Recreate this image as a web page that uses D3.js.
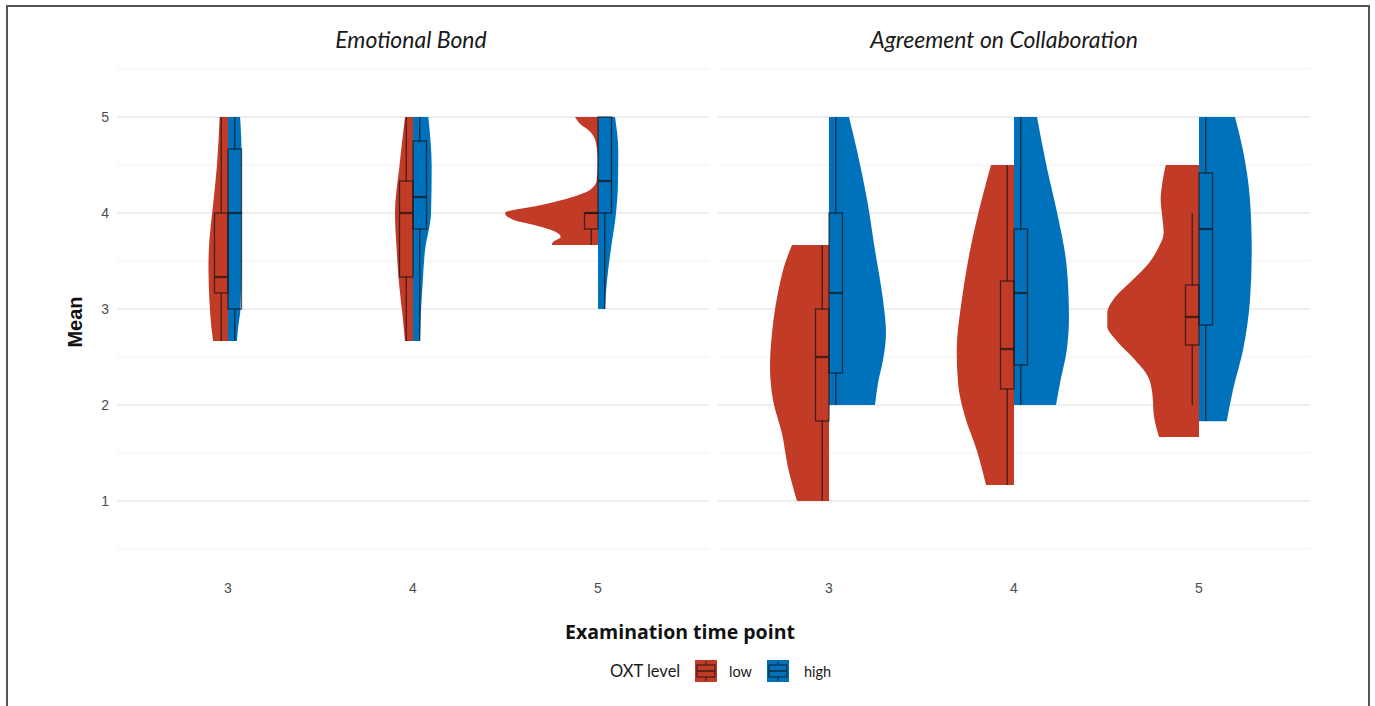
<!DOCTYPE html>
<html>
<head>
<meta charset="utf-8">
<script src="https://cdn.jsdelivr.net/npm/d3@7"></script>
<style>
  html, body { margin: 0; padding: 0; background: #fff; }
  svg { display: block; }
</style>
</head>
<body>
<svg id="chart" width="1375" height="706"></svg>
<script>
// ---------------- DATA ----------------
const panels = ["Emotional Bond", "Agreement on Collaboration"];
const timePoints = ["3", "4", "5"];
const groups = ["low", "high"];
const groupColors = ["#C13B27", "#0072BC"];
const yTicks = [1, 2, 3, 4, 5];

// violin density profiles: [mean value, relative density]
const ebLow3  = [[5,0.09],[4.48,0.12],[4,0.17],[3.72,0.20],[3.44,0.21],[3.09,0.20],[2.82,0.18],[2.667,0.16]];
const ebHigh3 = [[5,0.13],[4.65,0.145],[4,0.145],[3.5,0.145],[3.0,0.134],[2.8,0.108],[2.667,0.097]];
const ebLow4  = [[5,0.086],[4.48,0.147],[4,0.194],[3.61,0.175],[3.27,0.151],[2.92,0.111],[2.667,0.086]];
const ebHigh4 = [[5,0.165],[4.48,0.201],[4,0.194],[3.61,0.129],[3.27,0.104],[2.92,0.083],[2.667,0.075]];
const ebLow5  = [[5,0.247],[4.93,0.194],[4.85,0.086],[4.73,0.022],[4.55,0.003],[4.34,0.014],[4.24,0.086],[4.17,0.266],[4.08,0.624],[4.0,1.0],[3.93,0.914],[3.86,0.624],[3.79,0.43],[3.75,0.401],[3.7,0.481],[3.667,0.498]];
const ebHigh5 = [[5,0.183],[4.65,0.218],[4.31,0.215],[4.0,0.194],[3.61,0.137],[3.27,0.094],[3.0,0.075]];
const acLow3  = [[3.667,0.398],[3.44,0.484],[3.27,0.527],[2.75,0.613],[2.4,0.634],[2.05,0.602],[1.7,0.505],[1.35,0.441],[1.0,0.344]];
const acHigh3 = [[5,0.215],[4.65,0.301],[4.14,0.409],[3.61,0.495],[3.09,0.581],[2.75,0.613],[2.47,0.581],[2.23,0.527],[2.0,0.495]];
const acLow4  = [[4.5,0.247],[4.14,0.347],[3.61,0.473],[3.09,0.562],[2.57,0.616],[2.23,0.602],[1.88,0.527],[1.53,0.401],[1.167,0.301]];
const acHigh4 = [[5,0.247],[4.48,0.352],[3.96,0.473],[3.44,0.567],[2.92,0.591],[2.57,0.567],[2.23,0.495],[2.0,0.452]];
const acLow5  = [[4.5,0.358],[4.31,0.395],[4.14,0.412],[3.96,0.395],[3.79,0.38],[3.65,0.43],[3.48,0.538],[3.3,0.717],[3.13,0.896],[2.955,0.986],[2.82,0.986],[2.68,0.896],[2.5,0.717],[2.29,0.545],[2.12,0.502],[1.88,0.484],[1.667,0.43]];
const acHigh5 = [[5,0.387],[4.65,0.473],[4.14,0.548],[3.61,0.567],[3.09,0.548],[2.57,0.473],[2.16,0.366],[1.83,0.298]];

// box statistics: [whisker low, q1, median, q3, whisker high]
const ebLowBox  = [[2.667,3.167,3.333,4.0,5.0],[2.667,3.333,4.0,4.333,5.0],[3.667,3.833,4.0,4.0,4.0]];
const ebHighBox = [[2.667,3.0,4.0,4.667,5.0],[2.667,3.833,4.167,4.75,5.0],[3.0,4.0,4.333,5.0,5.0]];
const acLowBox  = [[1.0,1.833,2.5,3.0,3.667],[1.167,2.167,2.583,3.292,4.5],[2.0,2.625,2.917,3.25,4.0]];
const acHighBox = [[2.0,2.333,3.167,4.0,5.0],[2.0,2.417,3.167,3.833,5.0],[1.833,2.833,3.833,4.417,5.0]];

const violins = [
  [[ebLow3, ebLow4, ebLow5], [ebHigh3, ebHigh4, ebHigh5]],
  [[acLow3, acLow4, acLow5], [acHigh3, acHigh4, acHigh5]]
];
const boxes = [[ebLowBox, ebHighBox], [acLowBox, acHighBox]];

// ---------------- LAYOUT ----------------
const svg = d3.select("#chart");
const panelRanges = [[117, 709], [718, 1310]];
const y = d3.scaleLinear().domain([0.5, 5.5]).range([549, 69]);
const w = d3.scaleLinear().domain([0, 1]).range([0, 93]);
const boxW = 13.5;
const boxStroke = "rgba(25,20,20,0.72)";

// outer frame
svg.append("path")
  .attr("d", "M7,720 L7,6 L1369,6 L1369,720")
  .attr("fill", "none").attr("stroke", "#555").attr("stroke-width", 2);

panels.forEach((title, pi) => {
  const [x0, x1] = panelRanges[pi];
  const step = (x1 - x0) / 3.2;
  const x = d3.scalePoint().domain(timePoints).range([x0 + 0.6 * step, x1 - 0.6 * step]);
  const g = svg.append("g");

  // grid
  const minor = d3.range(0.5, 5.6, 1);
  g.selectAll(".minor").data(minor).enter().append("line")
    .attr("x1", x0).attr("x2", x1).attr("y1", d => y(d)).attr("y2", d => y(d))
    .attr("stroke", "#f1f1f1").attr("stroke-width", 1);
  g.selectAll(".major").data(yTicks).enter().append("line")
    .attr("x1", x0).attr("x2", x1).attr("y1", d => y(d)).attr("y2", d => y(d))
    .attr("stroke", "#e9e9e9").attr("stroke-width", 1.5);

  // title
  svg.append("text").attr("x", (x0 + x1) / 2 - (pi === 1 ? 10 : 2)).attr("y", 48)
    .attr("text-anchor", "middle").attr("font-family", "Lato, 'Open Sans', sans-serif")
    .attr("font-style", "italic").attr("font-size", 23).attr("fill", "#1a1a1a").text(title);

  // x tick labels
  g.selectAll(".xt").data(timePoints).enter().append("text")
    .attr("x", d => x(d)).attr("y", 593).attr("text-anchor", "middle")
    .attr("font-family", "'Liberation Sans', Arial, sans-serif").attr("font-size", 14)
    .attr("fill", "#4d4d4d").text(d => d);

  groups.forEach((grp, gi) => {
    const dir = gi === 0 ? -1 : 1;
    timePoints.forEach((tp, ti) => {
      const cx = x(tp);
      const prof = violins[pi][gi][ti];
      const area = d3.area()
        .y(d => y(d[0]))
        .x0(() => cx)
        .x1(d => cx + dir * w(d[1]))
        .curve(d3.curveMonotoneY);
      g.append("path").attr("d", area(prof)).attr("fill", groupColors[gi]).attr("stroke", "none");
    });
  });

  groups.forEach((grp, gi) => {
    const dir = gi === 0 ? -1 : 1;
    timePoints.forEach((tp, ti) => {
      const cx = x(tp);
      const [wl, q1, med, q3, wh] = boxes[pi][gi][ti];
      const bx = gi === 0 ? cx - boxW : cx;
      const mx = cx + dir * boxW / 2;
      g.append("line").attr("x1", mx).attr("x2", mx).attr("y1", y(q3)).attr("y2", y(wh))
        .attr("stroke", boxStroke).attr("stroke-width", 1.3);
      g.append("line").attr("x1", mx).attr("x2", mx).attr("y1", y(q1)).attr("y2", y(wl))
        .attr("stroke", boxStroke).attr("stroke-width", 1.3);
      g.append("rect").attr("x", bx).attr("width", boxW)
        .attr("y", y(q3)).attr("height", y(q1) - y(q3))
        .attr("fill", "none").attr("stroke", boxStroke).attr("stroke-width", 1.3);
      g.append("line").attr("x1", bx).attr("x2", bx + boxW).attr("y1", y(med)).attr("y2", y(med))
        .attr("stroke", boxStroke).attr("stroke-width", 2.3);
    });
  });
});

// y tick labels
svg.selectAll(".yt").data(yTicks).enter().append("text")
  .attr("x", 109).attr("y", d => y(d) + 5).attr("text-anchor", "end")
  .attr("font-family", "'Liberation Sans', Arial, sans-serif").attr("font-size", 14)
  .attr("fill", "#4d4d4d").text(d => d);

// axis titles
svg.append("text").attr("x", 680).attr("y", 639).attr("text-anchor", "middle")
  .attr("font-family", "'Open Sans', sans-serif").attr("font-weight", "bold")
  .attr("font-size", 19.5).attr("fill", "#111").text("Examination time point");
svg.append("text").attr("transform", "translate(82,322) rotate(-90)").attr("text-anchor", "middle")
  .attr("font-family", "'Liberation Sans', Arial, sans-serif").attr("font-weight", "bold")
  .attr("font-size", 20).attr("fill", "#111").text("Mean");

// legend
const lg = svg.append("g");
lg.append("text").attr("x", 610).attr("y", 677).attr("font-family", "Lato, 'Open Sans', sans-serif")
  .attr("font-size", 16.5).attr("fill", "#1a1a1a").text("OXT level");
const keyX = [695, 767];
const labX = [729, 804];
groups.forEach((grp, gi) => {
  const kx = keyX[gi], ky = 660, ks = 22;
  lg.append("rect").attr("x", kx).attr("y", ky).attr("width", ks).attr("height", ks)
    .attr("fill", groupColors[gi]);
  lg.append("line").attr("x1", kx + ks / 2).attr("x2", kx + ks / 2).attr("y1", ky + 1).attr("y2", ky + 5)
    .attr("stroke", boxStroke).attr("stroke-width", 1.2);
  lg.append("line").attr("x1", kx + ks / 2).attr("x2", kx + ks / 2).attr("y1", ky + 17).attr("y2", ky + 21)
    .attr("stroke", boxStroke).attr("stroke-width", 1.2);
  lg.append("rect").attr("x", kx + 2).attr("y", ky + 5).attr("width", ks - 4).attr("height", 12)
    .attr("fill", "none").attr("stroke", boxStroke).attr("stroke-width", 1.2);
  lg.append("line").attr("x1", kx + 2).attr("x2", kx + ks - 2).attr("y1", ky + 11).attr("y2", ky + 11)
    .attr("stroke", boxStroke).attr("stroke-width", 1.6);
  lg.append("text").attr("x", labX[gi]).attr("y", 677).attr("font-family", "Lato, 'Open Sans', sans-serif")
    .attr("font-size", 14.5).attr("fill", "#1a1a1a").text(grp);
});
</script>
</body>
</html>
